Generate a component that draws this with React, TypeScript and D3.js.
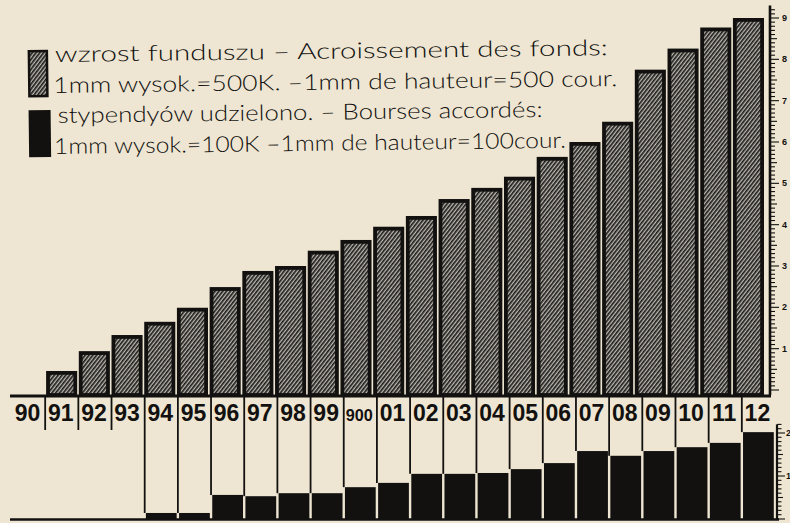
import { useEffect, useRef } from "react";
import * as d3 from "d3";

// years 1890 - 1912, as printed under the bars
const years = ["90", "91", "92", "93", "94", "95", "96", "97", "98", "99", "900", "01", "02", "03", "04", "05", "06", "07", "08", "09", "10", "11", "12"];

// wzrost funduszu (fund growth), scale units of the upper ruler
const fundValues = [0, 0.46, 0.94, 1.33, 1.65, 1.99, 2.49, 2.88, 3.0, 3.37, 3.63, 3.95, 4.21, 4.62, 4.89, 5.16, 5.64, 6.0, 6.49, 7.75, 8.26, 8.77, 9.0];

// stypendyów udzielono (grants awarded), scale units of the lower ruler
const grantValues = [0, 0, 0, 0, 0.14, 0.14, 0.56, 0.53, 0.6, 0.6, 0.74, 0.84, 1.05, 1.05, 1.07, 1.16, 1.3, 1.58, 1.47, 1.58, 1.67, 1.77, 2.02];

const fundTicks = [1, 2, 3, 4, 5, 6, 7, 8, 9];
const grantTicks = [1, 2];

const legendLines = [
  "wzrost funduszu – Acroissement des fonds:",
  "1mm wysok.=500K. –1mm de hauteur=500 cour.",
  "stypendyów udzielono. – Bourses accordés:",
  "1mm wysok.=100K –1mm de hauteur=100cour.",
];

const PAPER = "#eee6d2";
const INK = "#121110";

const App = () => {
  const ref = useRef<SVGSVGElement | null>(null);

  useEffect(() => {
    if (!ref.current) return;
    const svg = d3.select(ref.current);
    svg.selectAll("*").remove();

    const width = 790,
      height = 523;
    svg.attr("width", width).attr("height", height);

    svg.append("rect").attr("width", width).attr("height", height).attr("fill", PAPER);

    const defs = svg.append("defs");
    const pat = defs
      .append("pattern")
      .attr("id", "hatch")
      .attr("patternUnits", "userSpaceOnUse")
      .attr("width", 3)
      .attr("height", 3)
      .attr("patternTransform", "rotate(38)");
    pat.append("rect").attr("width", 3).attr("height", 3).attr("fill", "#bdb9b0");
    pat
      .append("line")
      .attr("x1", 0.8)
      .attr("y1", 0)
      .attr("x2", 0.8)
      .attr("y2", 3)
      .attr("stroke", "#1c1b1a")
      .attr("stroke-width", 1.7);

    // scales
    const topBase = 395;
    const botBase = 519;
    const xFund = d3.scaleBand().domain(years).range([13.4, 764]).paddingInner(0.05);
    const xCol = d3.scaleBand().domain(years).range([12, 775]);
    const yTop = d3.scaleLinear().domain([0, 9]).range([390, 18]);
    const yBot = d3.scaleLinear().domain([0, 2]).range([botBase, 433]);

    // fund bars
    const sw = 3.8;
    svg
      .append("g")
      .selectAll("rect")
      .data(years.map((y, i) => ({ y, v: fundValues[i] })).filter((d) => d.v > 0))
      .enter()
      .append("rect")
      .attr("x", (d) => xFund(d.y)! + sw / 2)
      .attr("width", xFund.bandwidth() - sw)
      .attr("y", (d) => yTop(d.v) + sw / 2)
      .attr("height", (d) => topBase - yTop(d.v) - sw / 2)
      .attr("fill", "url(#hatch)")
      .attr("stroke", INK)
      .attr("stroke-width", sw);

    // top baseline
    svg
      .append("line")
      .attr("x1", 10)
      .attr("x2", 771)
      .attr("y1", topBase + 1)
      .attr("y2", topBase + 1)
      .attr("stroke", INK)
      .attr("stroke-width", 3);

    // grant bars
    svg
      .append("g")
      .selectAll("rect")
      .data(years.map((y, i) => ({ y, v: grantValues[i] })).filter((d) => d.v > 0))
      .enter()
      .append("rect")
      .attr("x", (d) => xCol(d.y)! + 1.2)
      .attr("width", xCol.bandwidth() - 2.4)
      .attr("y", (d) => yBot(d.v))
      .attr("height", (d) => botBase - yBot(d.v))
      .attr("fill", INK);

    // bottom baseline
    svg
      .append("line")
      .attr("x1", 10)
      .attr("x2", 779)
      .attr("y1", botBase + 0.5)
      .attr("y2", botBase + 0.5)
      .attr("stroke", INK)
      .attr("stroke-width", 2.5);

    // column separators between year labels
    svg
      .append("g")
      .selectAll("line")
      .data(years.slice(1).map((y) => ({ y, v: grantValues[years.indexOf(y)] })))
      .enter()
      .append("line")
      .attr("x1", (d) => xCol(d.y)!)
      .attr("x2", (d) => xCol(d.y)!)
      .attr("y1", topBase + 2)
      .attr("y2", (d) => (d.v > 0 ? yBot(d.v) : 430))
      .attr("stroke", INK)
      .attr("stroke-width", 1.8);

    // year labels
    svg
      .append("g")
      .selectAll("text")
      .data(years)
      .enter()
      .append("text")
      .attr("x", (d) => xCol(d)! + xCol.bandwidth() / 2 - 1)
      .attr("y", 421)
      .attr("text-anchor", "middle")
      .attr("font-family", "Liberation Sans, Arial, sans-serif")
      .attr("font-weight", "bold")
      .attr("font-size", (d) => (d.length > 2 ? 16 : 23))
      .attr("fill", INK)
      .text((d) => d)
      .each(function (d) {
        if (d.length > 2) d3.select(this).attr("textLength", 27).attr("lengthAdjust", "spacingAndGlyphs");
      });

    // upper ruler
    const axTop = svg.append("g").attr("transform", "translate(770,0)");
    axTop
      .append("line")
      .attr("y1", yTop(9.3))
      .attr("y2", topBase)
      .attr("stroke", INK)
      .attr("stroke-width", 2.6);
    axTop
      .selectAll("line.tick")
      .data(d3.range(0, 93))
      .enter()
      .append("line")
      .attr("class", "tick")
      .attr("x1", 0)
      .attr("x2", (i) => (i % 10 === 0 ? 9 : i % 5 === 0 ? 7 : 5))
      .attr("y1", (i) => yTop(i / 10))
      .attr("y2", (i) => yTop(i / 10))
      .attr("stroke", INK)
      .attr("stroke-width", 1.1);
    axTop
      .selectAll("text")
      .data(fundTicks)
      .enter()
      .append("text")
      .attr("x", 12)
      .attr("y", (d) => yTop(d) + 3)
      .attr("font-family", "Liberation Sans, Arial, sans-serif")
      .attr("font-weight", "bold")
      .attr("font-size", 9)
      .attr("fill", INK)
      .text((d) => d);

    // lower ruler
    const axBot = svg.append("g").attr("transform", "translate(777,0)");
    axBot
      .append("line")
      .attr("y1", yBot(2.2))
      .attr("y2", botBase)
      .attr("stroke", INK)
      .attr("stroke-width", 2.2);
    axBot
      .selectAll("line.tick")
      .data(d3.range(0, 23))
      .enter()
      .append("line")
      .attr("class", "tick")
      .attr("x1", 0)
      .attr("x2", (i) => (i % 10 === 0 ? 8 : i % 5 === 0 ? 6 : 4.5))
      .attr("y1", (i) => yBot(i / 10))
      .attr("y2", (i) => yBot(i / 10))
      .attr("stroke", INK)
      .attr("stroke-width", 1.1);
    axBot
      .selectAll("text")
      .data(grantTicks)
      .enter()
      .append("text")
      .attr("x", 9)
      .attr("y", (d) => yBot(d) + 3)
      .attr("font-family", "Liberation Sans, Arial, sans-serif")
      .attr("font-weight", "bold")
      .attr("font-size", 9)
      .attr("fill", INK)
      .text((d) => d);

    // legend
    const lg = svg.append("g").attr("transform", "rotate(-0.7,55,63)");
    lg.append("rect")
      .attr("x", 29)
      .attr("y", 51)
      .attr("width", 18)
      .attr("height", 45)
      .attr("fill", "url(#hatch)")
      .attr("stroke", INK)
      .attr("stroke-width", 2.5);
    lg.append("rect").attr("x", 28).attr("y", 110).attr("width", 22).attr("height", 47).attr("fill", INK);

    const lineX = [55, 53, 57, 53];
    const lineY = [62, 93, 123, 154];
    const lineW = [553, 564, 485, 512];
    lg.selectAll("text")
      .data(legendLines)
      .enter()
      .append("text")
      .attr("x", (_, i) => lineX[i])
      .attr("y", (_, i) => lineY[i])
      .attr("textLength", (_, i) => lineW[i])
      .attr("lengthAdjust", "spacingAndGlyphs")
      .attr("font-family", "Lato, 'DejaVu Sans', sans-serif")
      .attr("font-weight", 300)
      .attr("font-size", 22)
      .attr("fill", INK)
      .text((d) => d);
  }, []);

  return (
    <div style={{ position: "absolute", left: 0, top: 0 }}>
      <svg ref={ref} style={{ display: "block" }}></svg>
    </div>
  );
};

export default App;
